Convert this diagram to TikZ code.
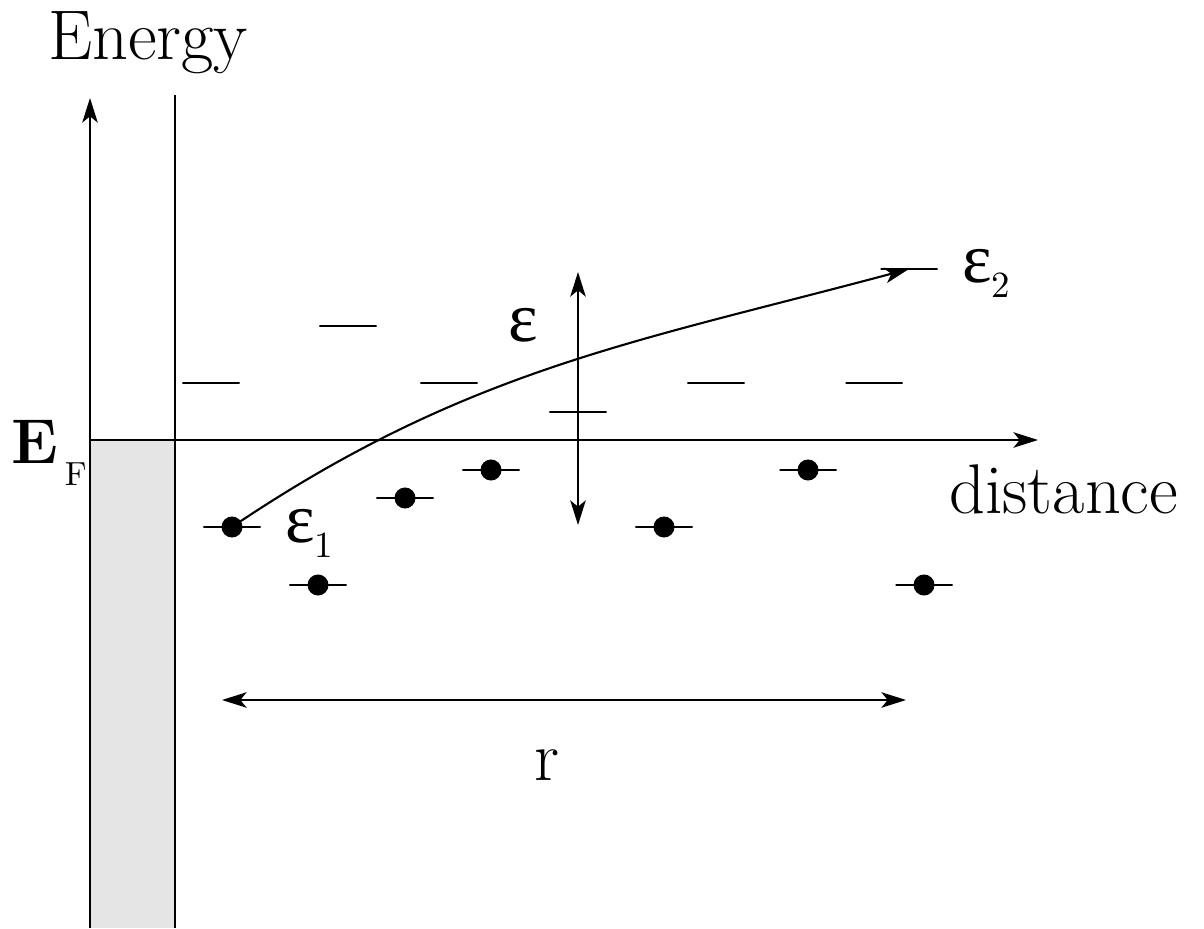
\documentclass[tikz,border=0pt]{standalone}
\usepackage{fontspec}
\usepackage{tikz}
\usetikzlibrary{arrows.meta}
\usetikzlibrary{positioning}
\newfontfamily\grk{Liberation Serif}

\begin{document}
\begin{tikzpicture}[
  x=0.01cm, y=-0.01cm,
  every path/.style={line width=0.6pt},
  dot/.style={circle, fill, inner sep=0pt, minimum size=0.21cm},
  lvl/.style={draw, inner sep=0pt, minimum width=0.57cm, minimum height=0pt},
  lbl/.style={font=\fontsize{20}{24}\selectfont, inner sep=0pt},
  sub/.style={font=\fontsize{10.5}{12}\selectfont, inner sep=0pt},
]
\tikzset{>={Stealth[length=7pt, width=4.4pt, inset=1.8pt]}}
\useasboundingbox (0,0) rectangle (1204,928);

  % Axes and contact
  \coordinate (ybot) at (90,928);
  \coordinate (ytop) at (90,98);
  \coordinate (wbot) at (175,928);
  \coordinate (wtop) at (175,95);
  \coordinate (ef)   at (90,440);
  \coordinate (xend) at (1038,440);
  \fill[gray!20] (ef) rectangle (wbot);
  \draw[->] (ybot) -- (ytop);
  \draw (wbot) -- (wtop);
  \draw[->] (ef) -- (xend);

  % Empty levels
  \node[lvl] (u1) at (348,326) {};
  \node[lvl] (u2) at (211,383) {};
  \node[lvl] (u3) at (449,383) {};
  \node[lvl] (u4) at (716,383) {};
  \node[lvl] (u5) at (874,383) {};
  \node[lvl] (u6) at (578,412) {};
  \node[lvl] (u7) at (909,269) {};

  % Filled levels
  \node[lvl] (f1) at (232,527) {};
  \node[lvl] (f2) at (318,585) {};
  \node[lvl] (f3) at (405,498) {};
  \node[lvl] (f4) at (491,470) {};
  \node[lvl] (f5) at (664,527) {};
  \node[lvl] (f6) at (808,470) {};
  \node[lvl] (f7) at (924,585) {};
  \node[dot] (d1) at (232,527) {};
  \node[dot] (d2) at (318,585) {};
  \node[dot] (d3) at (405,498) {};
  \node[dot] (d4) at (491,470) {};
  \node[dot] (d5) at (664,527) {};
  \node[dot] (d6) at (808,470) {};
  \node[dot] (d7) at (924,585) {};

  % Labels
  \node[lbl, anchor=base west] (energy) at (47,60) {Energy};
  \node[lbl, anchor=base west] (dist) at (948,513) {distance};
  \node[lbl, anchor=base] (rlab) at (547,780) {r};
  \node[lbl, anchor=base west, font=\fontsize{18}{22}\selectfont\bfseries]
    (eflab) at (10,463) {E};
  \node[sub, anchor=base west, font=\fontsize{9.5}{11}\selectfont]
    (eflabf) at ([xshift=0.05cm, yshift=-0.22cm]eflab.base east) {F};
  \node[lbl, anchor=base west] (eps) at (507,342) {\grk ε};
  \node[lbl, anchor=base west] (eps1) at (284,542) {\grk ε};
  \node[sub, anchor=base west] (eps1s) at (313,557) {1};
  \node[lbl, anchor=base west] (eps2) at (961,283) {\grk ε};
  \node[sub, anchor=base west] (eps2s) at (990,298) {2};

  % Arrows
  \coordinate (eup) at (578,272);
  \coordinate (edn) at (578,525);
  \coordinate (rl) at (222,700);
  \coordinate (rr) at (906,700);
  \draw[<->] (eup) -- (edn);
  \draw[<->] (rl) -- (rr);
  \draw[->] (d1.center) to[out=34, in=195] (u7.center);

\end{tikzpicture}
\end{document}
